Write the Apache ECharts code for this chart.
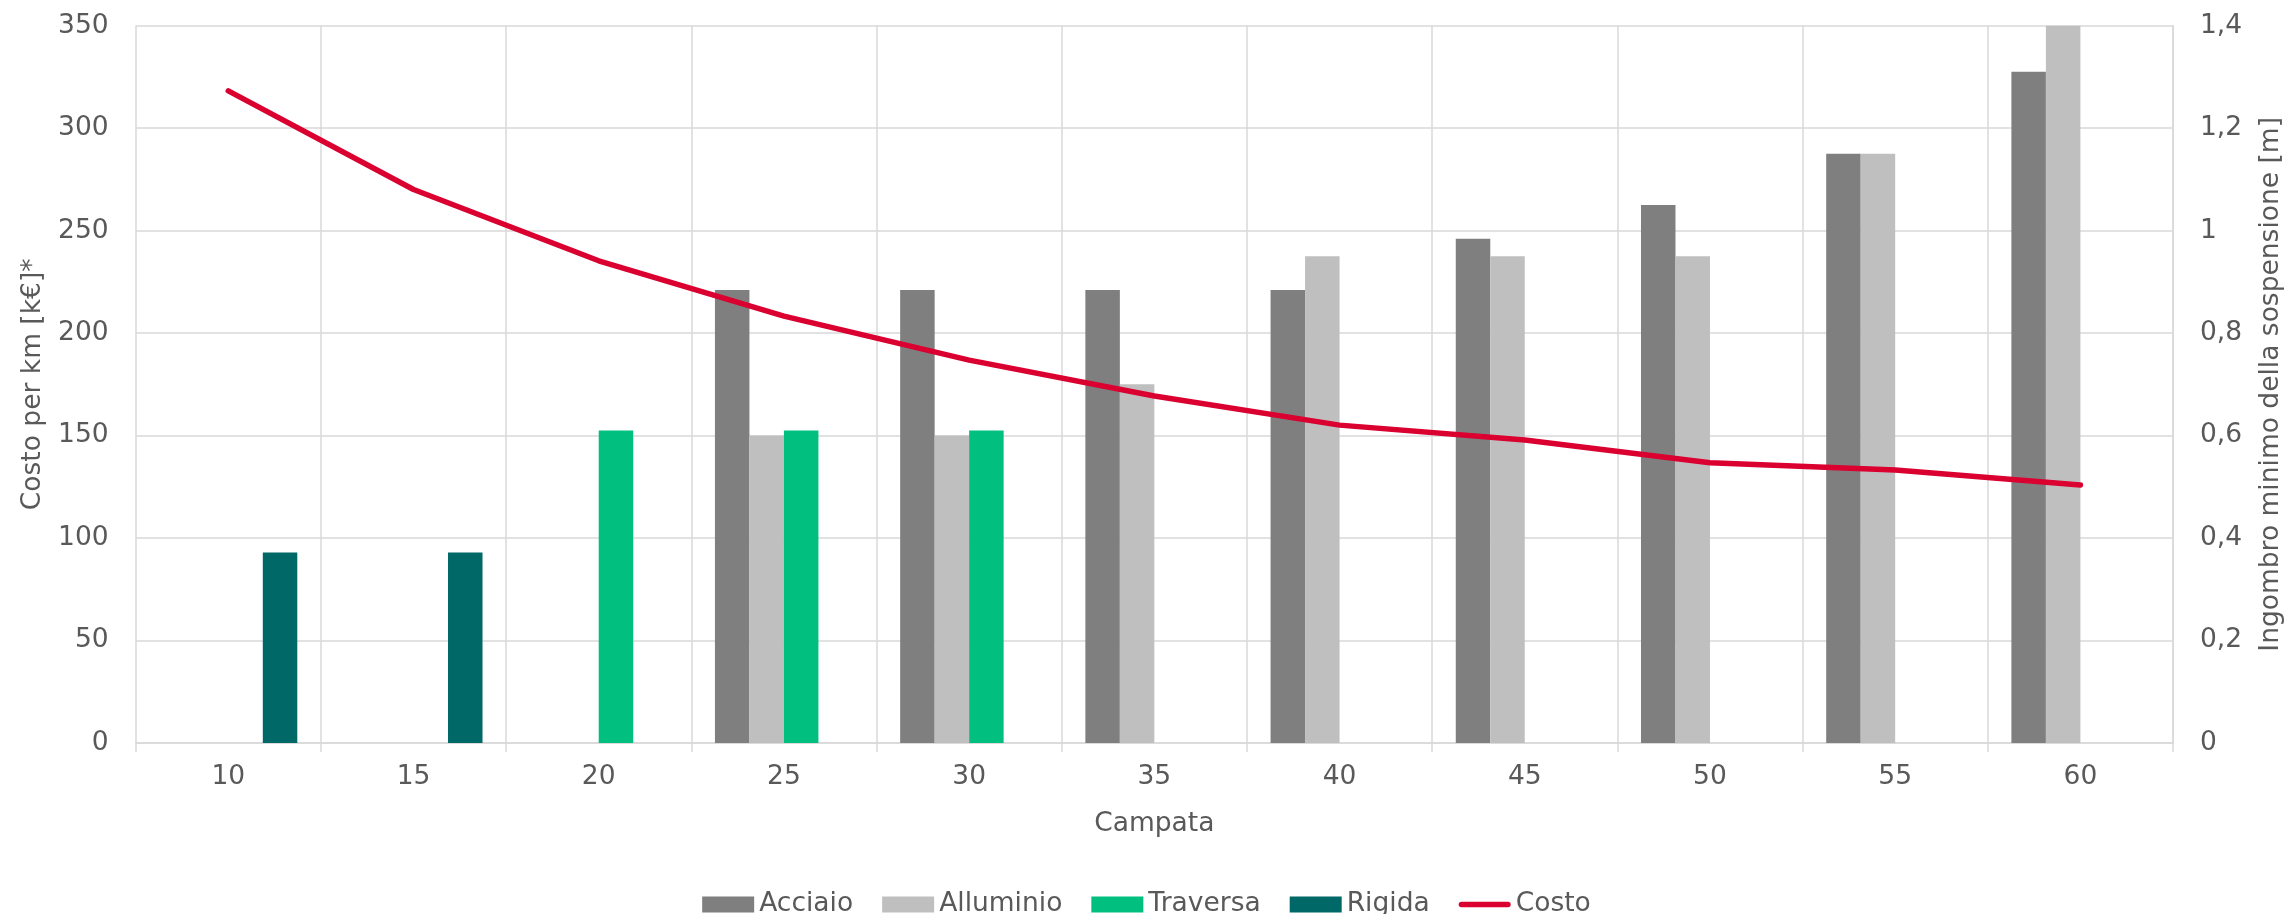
<!DOCTYPE html>
<html>
<head>
<meta charset="utf-8">
<script src="https://cdn.jsdelivr.net/npm/echarts@6/dist/echarts.min.js"></script>
<style>
html,body{margin:0;padding:0;background:#fff;}
#chart{width:2293px;height:914px;}
</style>
</head>
<body>
<div id="chart"></div>
<script>
var categories = ['10','15','20','25','30','35','40','45','50','55','60'];
// Ingombro minimo della sospensione [m] (right axis)
var acciaio   = [null, null, null, 0.884, 0.884, 0.884, 0.884, 0.984, 1.05, 1.15, 1.31];
var alluminio = [null, null, null, 0.60, 0.60, 0.70, 0.95, 0.95, 0.95, 1.15, 1.40];
var traversa  = [null, null, 0.61, 0.61, 0.61, null, null, null, null, null, null];
var rigida    = [0.372, 0.372, null, null, null, null, null, null, null, null, null];
// Costo per km [k€]* (left axis)
var costo = [318.2, 270.1, 235.3, 208.3, 186.8, 169.3, 155.1, 147.8, 136.7, 133.2, 125.9];
var leftTicks = {min: 0, max: 350, interval: 50};
var rightTicks = {min: 0, max: 1.4, interval: 0.2};

var FONT = 'DejaVu Sans';
var FS = 26.5;
var TXT = '#595959';
var GRID = '#D9D9D9';
var RED = '#DA0030';

var chart = echarts.init(document.getElementById('chart'), null, {renderer: 'canvas'});
var option = {
  animation: false,
  backgroundColor: '#ffffff',
  textStyle: {fontFamily: FONT, color: TXT},
  grid: {left: 135.7, right: 118.7, top: 25.7, bottom: 171, containLabel: false},
  legend: {
    top: 886, left: 'center',
    itemWidth: 52, itemHeight: 16, itemGap: 29,
    textStyle: {fontFamily: FONT, fontSize: FS, color: TXT},
    data: [
      {name: 'Acciaio', icon: 'rect'},
      {name: 'Alluminio', icon: 'rect'},
      {name: 'Traversa', icon: 'rect'},
      {name: 'Rigida', icon: 'rect'},
      {name: 'Costo', icon: 'path://M3,0 L53,0 A3,3 0 0 1 53,6 L3,6 A3,3 0 0 1 3,0 Z', itemStyle: {color: RED}}
    ]
  },
  xAxis: {
    type: 'category',
    data: categories,
    boundaryGap: true,
    name: 'Campata',
    nameLocation: 'middle',
    nameGap: 68,
    nameTextStyle: {fontFamily: FONT, fontSize: FS, color: TXT},
    axisLine: {show: true, lineStyle: {color: GRID, width: 1.5}},
    axisTick: {show: true, length: 9, lineStyle: {color: GRID, width: 1.5}},
    axisLabel: {fontFamily: FONT, fontSize: FS, color: TXT, margin: 21},
    splitLine: {show: true, lineStyle: {color: GRID, width: 1.5}}
  },
  yAxis: [
    {
      type: 'value',
      min: leftTicks.min, max: leftTicks.max, interval: leftTicks.interval,
      name: 'Costo per km [k€]*',
      nameLocation: 'middle',
      nameRotate: 90,
      nameGap: 89,
      nameTextStyle: {fontFamily: FONT, fontSize: FS, color: TXT},
      axisLine: {show: false},
      axisTick: {show: false},
      axisLabel: {fontFamily: FONT, fontSize: FS, color: TXT, margin: 27},
      splitLine: {show: true, lineStyle: {color: GRID, width: 1.5}}
    },
    {
      type: 'value',
      position: 'right',
      min: rightTicks.min, max: rightTicks.max, interval: rightTicks.interval,
      name: 'Ingombro minimo della sospensione [m]',
      nameLocation: 'middle',
      nameRotate: 90,
      nameGap: 85,
      nameTextStyle: {fontFamily: FONT, fontSize: FS, color: TXT},
      axisLine: {show: true, lineStyle: {color: GRID, width: 1.5}},
      axisTick: {show: false},
      axisLabel: {
        fontFamily: FONT, fontSize: FS, color: TXT, margin: 27,
        formatter: function (v) { return String(Math.round(v * 10) / 10).replace('.', ','); }
      },
      splitLine: {show: false}
    }
  ],
  series: [
    {name: 'Acciaio', type: 'bar', yAxisIndex: 1, data: acciaio, barGap: '0%', barCategoryGap: '25.5%', itemStyle: {color: '#7F7F7F'}},
    {name: 'Alluminio', type: 'bar', yAxisIndex: 1, data: alluminio, barGap: '0%', barCategoryGap: '25.5%', itemStyle: {color: '#BFBFBF'}},
    {name: 'Traversa', type: 'bar', yAxisIndex: 1, data: traversa, barGap: '0%', barCategoryGap: '25.5%', itemStyle: {color: '#00BF7F'}},
    {name: 'Rigida', type: 'bar', yAxisIndex: 1, data: rigida, barGap: '0%', barCategoryGap: '25.5%', itemStyle: {color: '#006967'}},
    {name: 'Costo', type: 'line', yAxisIndex: 0, data: costo, symbol: 'none', showSymbol: false, z: 5,
      lineStyle: {color: RED, width: 5.5, cap: 'round', join: 'round'},
      itemStyle: {color: RED}}
  ]
};
chart.setOption(option);
</script>
</body>
</html>
